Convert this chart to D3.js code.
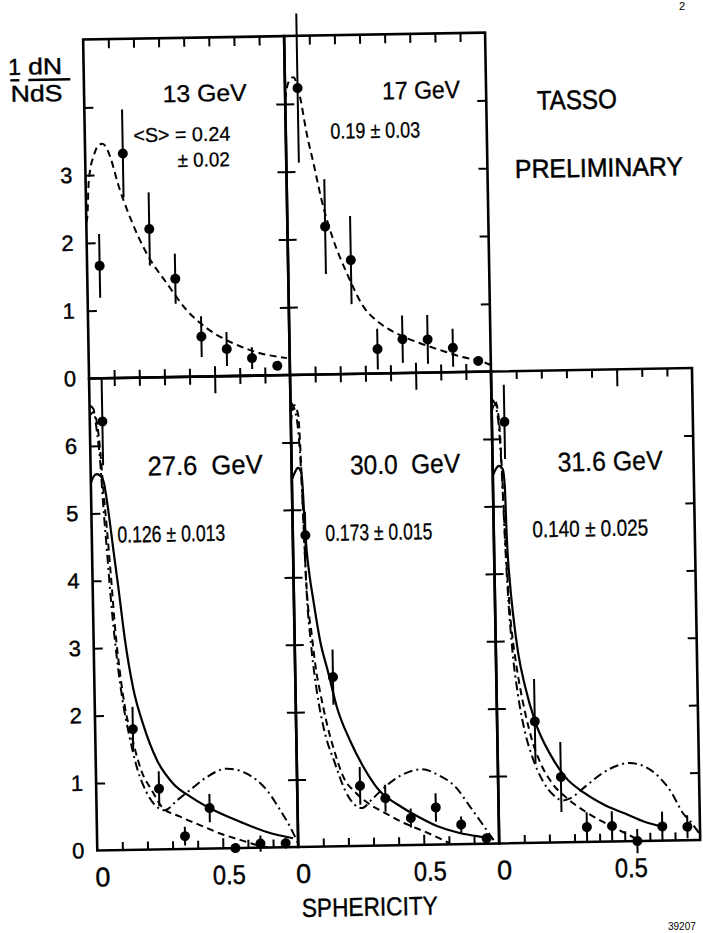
<!DOCTYPE html>
<html><head><meta charset="utf-8">
<script src="https://cdn.jsdelivr.net/npm/d3@7"></script>
<style>
html,body{margin:0;padding:0;background:#fff;}
svg{display:block;background:#fff;}
text{font-family:"Liberation Sans", Arial, sans-serif; fill:#000;}
</style></head><body>
<svg id="chart" width="703" height="933"></svg>
<script>
// ---- data ----
const sphericity = [0.05, 0.15, 0.25, 0.35, 0.45, 0.55, 0.65, 0.75];

const val13  = [1.66, 3.31, 2.19, 1.45, 0.59, 0.40, 0.26, 0.14];
const err13  = [0.47, 0.65, 0.54, 0.37, 0.30, 0.25, 0.16, 0.06];
const val17  = [4.23, 2.18, 1.68, 0.36, 0.50, 0.49, 0.36, 0.16];
const err17  = [1.10, 0.70, 0.65, 0.30, 0.35, 0.36, 0.28, 0.05];
const val276 = [6.36, 1.79, 0.90, 0.19, 0.60, 0.00, 0.06, 0.06];
const err276 = [0.65, 0.33, 0.26, 0.14, 0.21, 0.06, 0.12, 0.08];
const val300 = [4.62, 2.51, 0.89, 0.70, 0.40, 0.55, 0.29, 0.08];
const err300 = [0.35, 0.41, 0.28, 0.20, 0.14, 0.21, 0.12, 0.07];
const val316 = [6.25, 1.80, 0.97, 0.22, 0.23, 0.00, 0.21, 0.20];
const err316 = [0.55, 0.63, 0.52, 0.22, 0.22, 0.18, 0.22, 0.17];

// model curves [S, 1/N dN/dS]
const curve13Dashed = [[0,2.3],[0.005,2.4],[0.011,2.83],[0.02,3.1],[0.033,3.27],[0.05,3.42],[0.069,3.46],[0.085,3.4],[0.099,3.27],[0.132,2.82],[0.168,2.43],[0.238,1.83],[0.317,1.38],[0.393,0.985],[0.473,0.71],[0.578,0.48],[0.683,0.33],[0.789,0.25]];
const curve17Dashed = [[0,4.06],[0.012,4.3],[0.034,4.39],[0.059,4.10],[0.083,3.56],[0.108,3.12],[0.138,2.57],[0.182,1.98],[0.233,1.49],[0.297,0.99],[0.362,0.74],[0.441,0.56],[0.52,0.435],[0.599,0.33],[0.678,0.23],[0.765,0.15],[0.797,0.10]];

const curve276Solid   = [[0,5.45],[0.012,5.55],[0.023,5.58],[0.04,5.55],[0.052,5.45],[0.067,5.05],[0.085,4.45],[0.102,3.9],[0.125,3.11],[0.154,2.4],[0.192,1.85],[0.243,1.33],[0.307,0.97],[0.38,0.76],[0.465,0.57],[0.57,0.39],[0.676,0.23],[0.78,0.13]];
const curve276Dashed  = [[0,6.45],[0.015,6.5],[0.03,6.3],[0.04,5.9],[0.05,5.3],[0.06,4.8],[0.076,3.91],[0.086,3.31],[0.103,2.62],[0.12,2.12],[0.145,1.68],[0.182,1.16],[0.221,0.88],[0.26,0.63],[0.332,0.48],[0.41,0.35],[0.49,0.22],[0.569,0.12],[0.635,0.04],[0.68,0.0]];
const curve276DashDot = [[0,6.6],[0.015,6.55],[0.028,6.2],[0.038,5.8],[0.048,5.1],[0.06,4.4],[0.072,3.7],[0.09,2.9],[0.11,2.25],[0.135,1.7],[0.165,1.2],[0.2,0.85],[0.235,0.65],[0.272,0.58],[0.32,0.72],[0.373,0.87],[0.441,1.06],[0.521,1.18],[0.6,1.1],[0.679,0.85],[0.731,0.55],[0.769,0.3],[0.8,0.05]];

const curve300Solid   = [[0,5.45],[0.012,5.55],[0.025,5.62],[0.038,5.55],[0.043,5.3],[0.048,4.8],[0.054,4.4],[0.063,4.05],[0.077,3.66],[0.101,3.06],[0.132,2.57],[0.163,2.07],[0.213,1.57],[0.265,1.17],[0.33,0.8],[0.4,0.6],[0.478,0.42],[0.556,0.27],[0.639,0.17],[0.718,0.11],[0.775,0.08]];
const curve300Dashed  = [[0,6.3],[0.015,6.55],[0.03,6.4],[0.037,5.8],[0.045,4.6],[0.051,3.86],[0.068,3.16],[0.085,2.57],[0.095,2.35],[0.122,1.83],[0.153,1.38],[0.184,1.03],[0.23,0.8],[0.282,0.63],[0.348,0.48],[0.427,0.32],[0.507,0.19],[0.574,0.07],[0.6,0.02]];
const curve300DashDot = [[0,6.6],[0.015,6.5],[0.028,6.2],[0.036,5.7],[0.044,4.7],[0.05,3.9],[0.065,3.0],[0.085,2.3],[0.11,1.75],[0.152,1.23],[0.19,0.83],[0.225,0.62],[0.255,0.56],[0.3,0.7],[0.35,0.87],[0.417,1.04],[0.497,1.12],[0.563,1.03],[0.63,0.85],[0.687,0.55],[0.733,0.3],[0.778,0.05]];

const curve316Solid   = [[0,5.45],[0.012,5.55],[0.025,5.6],[0.04,5.55],[0.047,5.3],[0.051,4.6],[0.061,3.85],[0.072,3.36],[0.089,2.81],[0.114,2.32],[0.151,1.8],[0.215,1.27],[0.267,0.97],[0.345,0.72],[0.424,0.54],[0.503,0.41],[0.582,0.28],[0.649,0.21]];
const curve316Dashed  = [[0,6.4],[0.015,6.55],[0.028,6.3],[0.036,5.6],[0.045,4.5],[0.052,3.9],[0.059,3.41],[0.075,2.8],[0.089,2.42],[0.113,1.92],[0.138,1.52],[0.17,1.18],[0.215,0.88],[0.28,0.63],[0.345,0.45],[0.411,0.30],[0.476,0.17],[0.53,0.065],[0.56,0.0]];
const curve316DashDot = [[0,6.6],[0.015,6.5],[0.028,6.15],[0.036,5.5],[0.044,4.5],[0.052,3.7],[0.065,2.9],[0.085,2.2],[0.11,1.65],[0.14,1.25],[0.18,0.9],[0.22,0.7],[0.255,0.62],[0.285,0.65],[0.346,0.82],[0.413,1.01],[0.48,1.13],[0.52,1.16],[0.586,1.1],[0.639,0.95],[0.691,0.7],[0.73,0.42],[0.768,0.25],[0.8,0.08]];

const xTickValues = [0.1, 0.2, 0.3, 0.4, 0.5, 0.6, 0.7];
const xTickLabels = ["0", "0.5"];
const topYLabels = ["0", "1", "2", "3"];
const bottomYLabels = ["0", "1", "2", "3", "4", "5", "6"];

// ---- layout ----
const colX = [90.5, 291.5, 492.5, 693.5];
const rowTop = 35, rowMid = 374, rowBot = 846;
const xDomain = [0, 0.8];

const svg = d3.select("#chart");
const root = svg.append("g").attr("transform", "rotate(-1 350 460)");

const dashStyles = {solid: null, dashed: "7,4.5", dashdot: "9,4,2,4"};

const panels = [
  {col:0, row:0, ymax:5, vals:val13, errs:err13,
   curves:[{d:curve13Dashed, s:"dashed"}],
   texts:[{t:"13 GeV", x:211, y:99, fs:24, w:84, a:"middle"},
          {t:"<S> = 0.24", x:139, y:138.5, fs:20, w:97, a:"start"},
          {t:"± 0.02", x:183, y:164, fs:20, w:52, a:"start"}]},
  {col:1, row:0, ymax:5, vals:val17, errs:err17,
   curves:[{d:curve17Dashed, s:"dashed"}],
   texts:[{t:"17 GeV", x:427.5, y:100, fs:25, w:78, a:"middle"},
          {t:"0.19 ± 0.03", x:336, y:138.5, fs:22, w:90, a:"start"}]},
  {col:0, row:1, ymax:7, vals:val276, errs:err276,
   curves:[{d:curve276Solid, s:"solid"},{d:curve276Dashed, s:"dashed"},{d:curve276DashDot, s:"dashdot"}],
   texts:[{t:"27.6  GeV", x:205, y:472, fs:27, w:115, a:"middle"},
          {t:"0.126 ± 0.013", x:116, y:538.5, fs:23, w:108, a:"start"}]},
  {col:1, row:1, ymax:7, vals:val300, errs:err300,
   curves:[{d:curve300Solid, s:"solid"},{d:curve300Dashed, s:"dashed"},{d:curve300DashDot, s:"dashdot"}],
   texts:[{t:"30.0  GeV", x:405, y:474.5, fs:27, w:110, a:"middle"},
          {t:"0.173 ± 0.015", x:324, y:540.5, fs:23, w:107, a:"start"}]},
  {col:2, row:1, ymax:7, vals:val316, errs:err316,
   curves:[{d:curve316Solid, s:"solid"},{d:curve316Dashed, s:"dashed"},{d:curve316DashDot, s:"dashdot"}],
   texts:[{t:"31.6 GeV", x:610, y:475, fs:27, w:105, a:"middle"},
          {t:"0.140 ± 0.025", x:531, y:540.5, fs:23, w:116, a:"start"}]}
];

function styleAxis(g, w) {
  g.select(".domain").remove();
  g.selectAll(".tick line").attr("stroke", "#000").attr("stroke-width", w || 2);
}

panels.forEach(p => {
  const x0 = colX[p.col], x1 = colX[p.col + 1];
  const yb = p.row === 0 ? rowMid : rowBot;
  const yt = p.row === 0 ? rowTop : rowMid;
  const x = d3.scaleLinear().domain(xDomain).range([x0, x1]);
  const y = d3.scaleLinear().domain([0, p.ymax]).range([yb, yt]);
  const g = root.append("g");
  const inner = d3.range(1, p.ymax);
  const minorX = xTickValues.filter(v => v !== 0.5);

  // ticks (inward) via d3 axes
  g.append("g").attr("transform", `translate(0,${yb})`)
    .call(d3.axisBottom(x).tickValues(minorX).tickSize(-8).tickFormat(""))
    .call(a => styleAxis(a));
  g.append("g").attr("transform", `translate(0,${yb})`)
    .call(d3.axisBottom(x).tickValues([0.5]).tickSize(-10).tickFormat(""))
    .call(a => styleAxis(a));
  g.append("g").attr("transform", `translate(0,${yt})`)
    .call(d3.axisTop(x).tickValues(minorX).tickSize(p.row === 1 ? -8 : -9).tickFormat(""))
    .call(a => styleAxis(a));
  g.append("g").attr("transform", `translate(0,${yt})`)
    .call(d3.axisTop(x).tickValues([0.5]).tickSize(p.row === 1 ? -17 : -9).tickFormat(""))
    .call(a => styleAxis(a));
  g.append("g").attr("transform", `translate(${x0},0)`)
    .call(d3.axisLeft(y).tickValues(inner).tickSize(-9).tickFormat(""))
    .call(a => styleAxis(a));
  g.append("g").attr("transform", `translate(${x1},0)`)
    .call(d3.axisRight(y).tickValues(inner).tickSize(-9).tickFormat(""))
    .call(a => styleAxis(a));

  // frame
  g.append("rect").attr("x", x0).attr("y", yt).attr("width", x1 - x0).attr("height", yb - yt)
    .attr("fill", "none").attr("stroke", "#000").attr("stroke-width", 2.6);

  // y labels on the left column
  if (p.col === 0) {
    const labs = p.row === 0 ? topYLabels : bottomYLabels;
    g.append("g").attr("transform", `translate(${x0},0)`)
      .call(d3.axisLeft(y).tickValues(labs.map(Number)).tickSize(0).tickPadding(13).tickFormat(d3.format("d")))
      .call(a => {
        a.select(".domain").remove();
        a.attr("font-family", null).attr("font-size", null);
        a.selectAll("text").attr("font-size", 22).attr("fill", "#000")
          .attr("stroke", "#000").attr("stroke-width", 0.4)
          .style("font-family", "'Liberation Sans', Arial, sans-serif");
      });
  }

  // x labels on the bottom row
  if (p.row === 1) {
    g.append("text").attr("x", x(0) + 5).attr("y", yb + 36).attr("text-anchor", "middle")
      .attr("font-size", 27).attr("stroke", "#000").attr("stroke-width", 0.4).text(xTickLabels[0]);
    g.append("text").attr("x", x(0.5) + 6).attr("y", yb + 36).attr("text-anchor", "middle")
      .attr("font-size", 27).attr("textLength", 33).attr("lengthAdjust", "spacingAndGlyphs")
      .attr("stroke", "#000").attr("stroke-width", 0.4)
      .text(xTickLabels[1]);
  }

  // curves
  const line = d3.line().x(d => x(d[0])).y(d => y(d[1])).curve(d3.curveMonotoneX);
  p.curves.forEach(c => {
    g.append("path").attr("d", line(c.d)).attr("fill", "none").attr("stroke", "#000")
      .attr("stroke-width", c.s === "solid" ? 2.2 : 2)
      .attr("stroke-dasharray", dashStyles[c.s]);
  });

  // error bars and points
  const pts = sphericity.map((s, i) => ({s, v: p.vals[i], e: p.errs[i]}));
  g.selectAll(null).data(pts).enter().append("line")
    .attr("x1", d => x(d.s)).attr("x2", d => x(d.s))
    .attr("y1", d => y(d.v - d.e)).attr("y2", d => y(d.v + d.e))
    .attr("stroke", "#000").attr("stroke-width", 2);
  g.selectAll(null).data(pts).enter().append("circle")
    .attr("cx", d => x(d.s)).attr("cy", d => y(d.v)).attr("r", 5).attr("fill", "#000");

  // annotations
  p.texts.forEach(t => {
    g.append("text").attr("x", t.x).attr("y", t.y).attr("text-anchor", t.a)
      .attr("font-size", t.fs).attr("textLength", t.w).attr("lengthAdjust", "spacingAndGlyphs")
      .attr("stroke", "#000").attr("stroke-width", 0.3)
      .attr("xml:space", "preserve").style("white-space", "pre")
      .text(t.t);
  });
});

// y-axis title  1/N dN/dS
const ytg = root.append("g").attr("stroke", "#000").attr("stroke-width", 0.4);
ytg.append("text").attr("x", 21.5).attr("y", 69).attr("text-anchor", "middle").attr("font-size", 23).text("1");
ytg.append("text").attr("x", 52).attr("y", 69).attr("text-anchor", "middle").attr("font-size", 23)
  .attr("textLength", 34).attr("lengthAdjust", "spacingAndGlyphs").text("dN");
ytg.append("line").attr("x1", 17).attr("x2", 26).attr("y1", 74.5).attr("y2", 74.5).attr("stroke-width", 2.4);
ytg.append("line").attr("x1", 35).attr("x2", 77).attr("y1", 74.5).attr("y2", 74.5).attr("stroke-width", 2.4);
ytg.append("text").attr("x", 43).attr("y", 96).attr("text-anchor", "middle").attr("font-size", 23)
  .attr("textLength", 52).attr("lengthAdjust", "spacingAndGlyphs").text("NdS");

// titles
root.append("text").attr("x", 583).attr("y", 113).attr("text-anchor", "middle").attr("font-size", 27)
  .attr("stroke", "#000").attr("stroke-width", 0.5)
  .attr("textLength", 80).attr("lengthAdjust", "spacingAndGlyphs").text("TASSO");
root.append("text").attr("x", 604).attr("y", 181).attr("text-anchor", "middle").attr("font-size", 26)
  .attr("stroke", "#000").attr("stroke-width", 0.5)
  .attr("textLength", 168).attr("lengthAdjust", "spacingAndGlyphs").text("PRELIMINARY");
root.append("text").attr("x", 362).attr("y", 916).attr("text-anchor", "middle").attr("font-size", 26)
  .attr("stroke", "#000").attr("stroke-width", 0.4)
  .attr("textLength", 136).attr("lengthAdjust", "spacingAndGlyphs").text("SPHERICITY");

// scan marks
svg.append("text").attr("x", 668).attr("y", 930).attr("font-size", 10).text("39207");
svg.append("text").attr("x", 679).attr("y", 10).attr("font-size", 11).text("2");
</script>
</body></html>
